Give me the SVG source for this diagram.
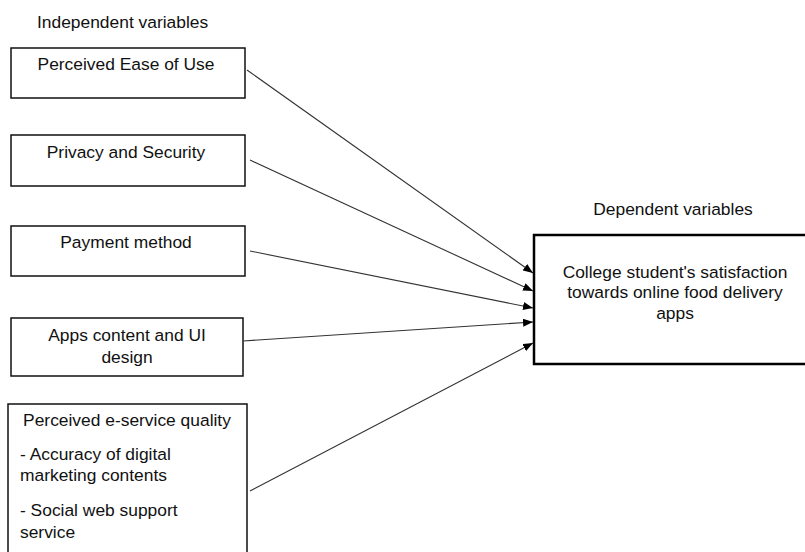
<svg xmlns="http://www.w3.org/2000/svg" width="805" height="552" viewBox="0 0 805 552">
<style>
text{font-family:"Liberation Sans",Arial,sans-serif;font-size:17.4px;fill:#111}
.c{text-anchor:middle}
.box{fill:#fff;stroke:#111;stroke-width:1.5}
.dep{fill:#fff;stroke:#000;stroke-width:2.5}
.ln{stroke:#333;stroke-width:1.1;fill:none;marker-end:url(#ah)}
</style>
<defs>
<marker id="ah" viewBox="0 0 10 8" refX="10" refY="4" markerWidth="10" markerHeight="8" markerUnits="userSpaceOnUse" orient="auto">
<path d="M0,0L10,4L0,8Z" fill="#000"/>
</marker>
</defs>
<rect width="805" height="552" fill="#fff"/>
<text x="37" y="28">Independent variables</text>
<text class="c" x="673" y="215">Dependent variables</text>
<g id="n1"><rect class="box" x="11" y="48" width="234" height="50"/><text class="c" x="126" y="70">Perceived Ease of Use</text></g>
<g id="n2"><rect class="box" x="11" y="135" width="234" height="51"/><text class="c" x="126" y="158">Privacy and Security</text></g>
<g id="n3"><rect class="box" x="11" y="226" width="234" height="50"/><text class="c" x="126" y="248">Payment method</text></g>
<g id="n4"><rect class="box" x="11" y="318" width="232" height="58"/><text class="c" x="127" y="341">Apps content and UI</text><text class="c" x="127" y="363">design</text></g>
<g id="n5"><rect class="box" x="8" y="404" width="239" height="160"/><text class="c" x="127" y="426">Perceived e-service quality</text><text x="20" y="460">- Accuracy of digital</text><text x="20" y="481">marketing contents</text><text x="20" y="516">- Social web support</text><text x="20" y="538">service</text></g>
<g id="dep"><rect class="dep" x="534" y="235" width="290" height="129"/><text class="c" x="675" y="278">College student's satisfaction</text><text class="c" x="675" y="298">towards online food delivery</text><text class="c" x="675" y="319">apps</text></g>
<g id="connectors">
<line class="ln" x1="247" y1="70" x2="533" y2="273"/>
<line class="ln" x1="250" y1="160" x2="533" y2="291"/>
<line class="ln" x1="250" y1="251" x2="533" y2="308"/>
<line class="ln" x1="243" y1="341" x2="533" y2="322"/>
<line class="ln" x1="250" y1="491" x2="533" y2="343"/>
</g>
</svg>
